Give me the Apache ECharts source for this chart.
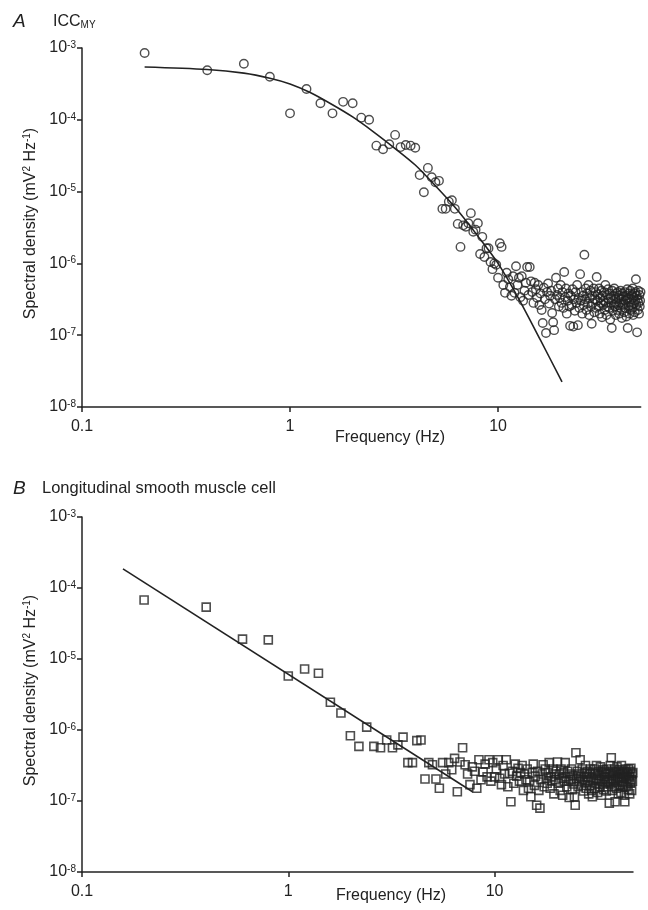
<!DOCTYPE html>
<html><head><meta charset="utf-8">
<script src="https://cdn.jsdelivr.net/npm/echarts@6/dist/echarts.min.js"></script>
<style>html,body{margin:0;padding:0;background:#fff}#c{width:648px;height:910px}</style>
</head><body><div id="c"></div>
<script>
// ---- data (log10 of spectral density, mV^2 Hz^-1), one value per 0.2 Hz bin starting at 0.2 Hz ----
const binWidthHz = 0.2;
const specA_log10 = [
 -3.07,-3.31,-3.22,-3.40,-3.91,-3.57,-3.77,-3.91,-3.75,-3.77,
 -3.97,-4.00,-4.36,-4.41,-4.34,-4.21,-4.38,-4.35,-4.36,-4.39,
 -4.77,-5.01,-4.67,-4.80,-4.87,-4.85,-5.24,-5.24,-5.14,-5.12,
 -5.24,-5.45,-5.77,-5.47,-5.49,-5.44,-5.30,-5.56,-5.53,-5.44,
 -5.87,-5.63,-5.91,-5.79,-5.79,-5.98,-6.08,-6.00,-6.02,-6.20,
 -5.72,-5.77,-6.30,-6.41,-6.13,-6.22,-6.33,-6.45,-6.18,-6.41,
 -6.04,-6.30,-6.20,-6.47,-6.18,-6.52,-6.38,-6.27,-6.05,-6.44,
 -6.05,-6.25,-6.40,-6.55,-6.27,-6.36,-6.48,-6.30,-6.58,-6.42,
 -6.65,-6.83,-6.34,-6.50,-6.97,-6.40,-6.28,-6.56,-6.45,-6.38,
 -6.69,-6.82,-6.93,-6.50,-6.20,-6.44,-6.35,-6.60,-6.48,-6.30,
 -6.55,-6.40,-6.62,-6.12,-6.47,-6.35,-6.70,-6.52,-6.42,-6.60,
 -6.87,-6.45,-6.58,-6.36,-6.88,-6.50,-6.66,-6.40,-6.55,-6.30,
 -6.86,-6.48,-6.62,-6.15,-6.52,-6.40,-6.70,-6.45,-6.58,-5.88,
 -6.50,-6.35,-6.65,-6.42,-6.56,-6.30,-6.72,-6.48,-6.38,-6.60,
 -6.84,-6.45,-6.55,-6.35,-6.68,-6.50,-6.40,-6.62,-6.19,-6.52,
 -6.43,-6.60,-6.35,-6.70,-6.48,-6.55,-6.38,-6.75,-6.45,-6.58,
 -6.52,-6.40,-6.65,-6.30,-6.55,-6.72,-6.44,-6.60,-6.36,-6.50,
 -6.62,-6.42,-6.78,-6.48,-6.55,-6.90,-6.38,-6.66,-6.45,-6.58,
 -6.35,-6.60,-6.50,-6.72,-6.42,-6.55,-6.65,-6.40,-6.58,-6.48,
 -6.70,-6.45,-6.55,-6.38,-6.62,-6.50,-6.76,-6.42,-6.58,-6.46,
 -6.55,-6.68,-6.40,-6.52,-6.62,-6.45,-6.74,-6.50,-6.36,-6.90,
 -6.48,-6.60,-6.42,-6.70,-6.55,-6.38,-6.65,-6.50,-6.58,-6.44,
 -6.62,-6.35,-6.72,-6.48,-6.56,-6.42,-6.68,-6.52,-6.40,-6.22,
 -6.58,-6.45,-6.96,-6.50,-6.65,-6.38,-6.55,-6.70,-6.44,-6.60,
 -6.52,-6.40
];
const specB_log10 = [
 -4.17,-4.27,-4.72,-4.73,-5.24,-5.14,-5.20,-5.61,-5.76,-6.08,
 -6.23,-5.96,-6.23,-6.25,-6.14,-6.25,-6.21,-6.10,-6.46,-6.46,
 -6.15,-6.14,-6.69,-6.46,-6.49,-6.69,-6.82,-6.46,-6.62,-6.46,
 -6.56,-6.40,-6.87,-6.45,-6.25,-6.49,-6.62,-6.77,-6.52,-6.58,
 -6.82,-6.42,-6.70,-6.59,-6.48,-6.66,-6.42,-6.72,-6.46,-6.66,
 -6.55,-6.42,-6.68,-6.77,-6.50,-6.62,-6.42,-6.80,-6.61,-7.01,
 -6.58,-6.75,-6.48,-6.65,-6.54,-6.72,-6.60,-6.50,-6.85,-6.62,
 -6.70,-6.55,-6.82,-6.73,-6.94,-6.60,-6.48,-6.78,-6.65,-7.06,
 -6.58,-6.85,-7.10,-6.70,-6.62,-6.49,-6.80,-6.55,-6.68,-6.75,
 -6.60,-6.46,-6.82,-6.66,-6.72,-6.55,-6.90,-6.62,-6.70,-6.58,
 -6.45,-6.75,-6.62,-6.85,-6.55,-6.68,-6.92,-6.60,-6.72,-6.46,
 -6.66,-6.80,-6.58,-6.72,-6.95,-6.62,-6.70,-6.55,-6.84,-6.64,
 -6.76,-6.94,-7.06,-6.32,-6.68,-6.58,-6.80,-6.62,-6.72,-6.42,
 -6.65,-6.78,-6.55,-6.70,-6.86,-6.60,-6.74,-6.50,-6.82,-6.66,
 -6.58,-6.72,-6.90,-6.62,-6.78,-6.55,-6.68,-6.85,-6.94,-6.60,
 -6.70,-6.55,-6.82,-6.62,-6.75,-6.50,-6.68,-6.88,-6.58,-6.72,
 -6.64,-6.80,-6.52,-6.70,-6.92,-6.60,-6.76,-6.56,-6.84,-6.66,
 -6.58,-6.74,-6.62,-6.86,-6.55,-6.70,-6.80,-6.60,-6.72,-7.03,
 -6.62,-6.50,-6.76,-6.39,-6.68,-6.85,-6.58,-6.72,-6.64,-6.80,
 -6.55,-7.01,-6.70,-6.60,-6.82,-6.52,-6.74,-6.66,-6.90,-6.58,
 -6.68,-6.56,-6.78,-6.62,-6.88,-6.50,-6.72,-6.60,-6.80,-6.66,
 -6.74,-6.58,-6.92,-7.01,-6.64,-6.55,-6.80,-6.68,-6.60,-6.76,
 -6.62,-6.84,-6.55,-6.70,-6.66,-6.90,-6.58,-6.75,-6.54,-6.70,
 -6.85,-6.62,-6.72,-6.60
];
// fitted curves
const fitA_freq  = [0.2, 0.4, 0.6, 0.8, 1.0, 1.25, 1.6, 2.0, 2.5, 3.2, 4.0, 5.0, 6.3, 8.0, 10.0, 12.5, 16.0, 20.3];
const fitA_log10 = [-3.265,-3.30,-3.35,-3.42,-3.50,-3.62,-3.79,-3.96,-4.16,-4.40,-4.63,-4.92,-5.24,-5.62,-6.00,-6.48,-7.07,-7.65];
const fitB_freq  = [0.158, 7.82];
const fitB_log10 = [-3.73, -6.87];
const xTicks = [0.1, 1, 10];
const yTicks = [1e-8, 1e-7, 1e-6, 1e-5, 1e-4, 1e-3];

const toPairs = (arr) => arr.map((v, i) => [+(binWidthHz * (i + 1)).toFixed(1), Math.pow(10, v)]);
const zipPairs = (fx, fy) => fx.map((f, i) => [f, Math.pow(10, fy[i])]);

const FONT = "'Liberation Sans', Arial, Helvetica, sans-serif";
const INK = '#222';

function xAxisDef(gi, max) {
  return {
    type: 'log', logBase: 10, gridIndex: gi, min: 0.1, max: max,
    axisLine: { lineStyle: { color: INK, width: 1.5 } },
    axisTick: { length: 5, lineStyle: { color: INK, width: 1.5 }, customValues: xTicks },
    axisLabel: { customValues: xTicks, color: INK, fontSize: 16, fontFamily: FONT, margin: 12,
      formatter: v => (v >= 1 ? String(Math.round(v)) : '0.1') },
    splitLine: { show: false }, minorTick: { show: false }
  };
}
function yAxisDef(gi) {
  return {
    type: 'log', logBase: 10, gridIndex: gi, min: 1e-8, max: 1e-3,
    name: 'Spectral density (mV{s|2} Hz{s|-1})', nameLocation: 'middle', nameGap: 37, nameRotate: 90,
    nameTextStyle: { color: INK, fontSize: 16, fontFamily: FONT, padding: [0, 0, 0, 8],
      rich: { s: { fontSize: 10, fontFamily: FONT, color: INK, verticalAlign: 'top' } } },
    axisLine: { show: true, lineStyle: { color: INK, width: 1.5 } },
    axisTick: { show: true, length: 5, lineStyle: { color: INK, width: 1.5 }, customValues: yTicks },
    axisLabel: { customValues: yTicks, color: INK, fontSize: 16, fontFamily: FONT, margin: 6,
      formatter: v => '10{s|' + Math.round(Math.log10(v)) + '}',
      rich: { s: { fontSize: 10, fontFamily: FONT, color: INK, verticalAlign: 'top' } } },
    splitLine: { show: false }, minorTick: { show: false }
  };
}

const chart = echarts.init(document.getElementById('c'), null, { renderer: 'canvas' });
chart.setOption({
  animation: false,
  backgroundColor: '#fff',
  grid: [
    { left: 82, top: 48, width: 558.7, height: 359 },
    { left: 82, top: 517, width: 551, height: 355 }
  ],
  xAxis: [xAxisDef(0, 48.5), xAxisDef(1, 46.9)],
  yAxis: [yAxisDef(0), yAxisDef(1)],
  graphic: [
    { type: 'text', left: 13, top: 12, style: { text: 'A', font: 'italic 19px ' + FONT, fill: INK } },
    { type: 'text', left: 53, top: 14, style: { text: '{b|ICC}{s|MY}', fill: INK,
        rich: { b: { fontSize: 16, fontFamily: FONT, fill: INK, color: INK }, s: { fontSize: 10, fontFamily: FONT, color: INK, verticalAlign: 'bottom' } } } },
    { type: 'text', x: 390, y: 438, style: { text: 'Frequency (Hz)', font: '16px ' + FONT, fill: INK, align: 'center', verticalAlign: 'middle' } },
    { type: 'text', left: 13, top: 479, style: { text: 'B', font: 'italic 19px ' + FONT, fill: INK } },
    { type: 'text', left: 42, top: 480, style: { text: 'Longitudinal smooth muscle cell', font: '16.5px ' + FONT, fill: INK } },
    { type: 'text', x: 391, y: 896, style: { text: 'Frequency (Hz)', font: '16px ' + FONT, fill: INK, align: 'center', verticalAlign: 'middle' } }
  ],
  series: [
    { type: 'scatter', xAxisIndex: 0, yAxisIndex: 0, data: toPairs(specA_log10), symbol: 'circle', symbolSize: 8.5,
      itemStyle: { color: 'rgba(0,0,0,0)', borderColor: INK, borderWidth: 1.4 }, z: 3 },
    { type: 'line', xAxisIndex: 0, yAxisIndex: 0, data: zipPairs(fitA_freq, fitA_log10), smooth: 0.3,
      showSymbol: false, lineStyle: { color: INK, width: 1.6 }, z: 2 },
    { type: 'scatter', xAxisIndex: 1, yAxisIndex: 1, data: toPairs(specB_log10), symbol: 'rect', symbolSize: 8,
      itemStyle: { color: 'rgba(0,0,0,0)', borderColor: INK, borderWidth: 1.6 }, z: 3 },
    { type: 'line', xAxisIndex: 1, yAxisIndex: 1, data: zipPairs(fitB_freq, fitB_log10),
      showSymbol: false, lineStyle: { color: INK, width: 1.6 }, z: 2 }
  ]
});
</script></body></html>
